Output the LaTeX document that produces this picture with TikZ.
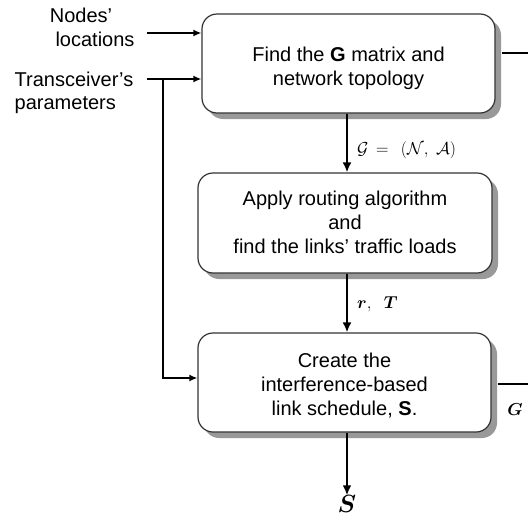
\documentclass[tikz,border=0pt]{standalone}
\usepackage{amsmath,bm}
\usepackage{fontspec}
\setmainfont{Liberation Sans}
\usetikzlibrary{arrows.meta,shadows}

% a centred block of lines, lowered by #1 without changing its extent
\newcommand\lowerlines[2]{\raisebox{-#1}[\height][\depth]{\begin{tabular}{@{}c@{}}#2\end{tabular}}}

\tikzset{
  stagebox/.style={draw=black!80, line width=1.2pt, rounded corners=15pt,
    fill=white, align=center, inner sep=0pt,
    font=\fontsize{20}{24}\selectfont,
    drop shadow={shadow xshift=6pt, shadow yshift=-6pt, fill=black!40, opacity=1}},
  flow/.style={line width=2.2pt, -{Latex[length=10pt,width=9pt]}},
  feed/.style={line width=1.7pt, -{Latex[length=8pt,width=7pt]}},
  plainline/.style={line width=1.7pt},
  sidetext/.style={font=\fontsize{20}{23.5}\selectfont, inner sep=0pt},
  mathlabel/.style={font=\fontsize{17}{20}\selectfont, inner sep=0pt},
}

\begin{document}
\begin{tikzpicture}[x=1pt, y=-1pt]
  \useasboundingbox (0,0) rectangle (528,517);

  % processing stages
  \node[stagebox, minimum width=293pt, minimum height=99pt] (b1) at (348.5,63.5)
    {\lowerlines{5pt}{Find the \textbf{G} matrix and\\network topology}};
  \node[stagebox, minimum width=294pt, minimum height=100pt] (b2) at (345,223)
    {\lowerlines{2pt}{Apply routing algorithm\\and\\find the links' traffic loads}};
  \node[stagebox, minimum width=293pt, minimum height=99pt] (b3) at (344.5,382.5)
    {\lowerlines{4pt}{Create the\\interference-based\\link schedule, \textbf{S}.}};

  % external inputs
  \node[sidetext, align=center] (nl) at (95,27.5) {Nodes'\hspace*{28pt}\\locations};
  \node[sidetext, align=left] (tp) at (74,93) {Transceiver's\\parameters};

  \coordinate (t1) at (147,33);
  \coordinate (t2) at (147,79);
  \coordinate (j) at (163,79);
  \coordinate (ax) at (347,0);

  \draw[feed] (t1) -- (b1.west |- t1);
  \draw[feed] (t2) -- (b1.west |- t2);
  \draw[feed] (j) |- ([yshift=4.5pt]b3.west);

  % main flow
  \draw[flow] (b1.south -| ax) -- (b2.north -| ax)
    node[mathlabel, midway, anchor=west, xshift=9pt, yshift=-7pt]
    {$\mathcal{G}\,=\;\,(\mathcal{N},\ \mathcal{A})$};
  \draw[flow] (b2.south -| ax) -- (b3.north -| ax)
    node[mathlabel, midway, anchor=west, xshift=9pt, yshift=-1pt]
    {$\bm{r},\ \ \bm{T}$};

  \node[inner sep=0pt, font=\fontsize{23}{26}\selectfont] (sout) at (347,504) {$\bm{S}$};
  \draw[flow] (b3.south -| ax) -- (sout.north);

  % outputs leaving to the right
  \coordinate (o1) at (528,53);
  \coordinate (o2) at (528,384);
  \draw[plainline] ([xshift=6pt, yshift=10.5pt]b1.east) -- (o1);
  \draw[plainline] ([xshift=6pt, yshift=-1.5pt]b3.east) -- (o2);
  \node[mathlabel] (gout) at (515,410) {$\bm{G}$};
\end{tikzpicture}
\end{document}
